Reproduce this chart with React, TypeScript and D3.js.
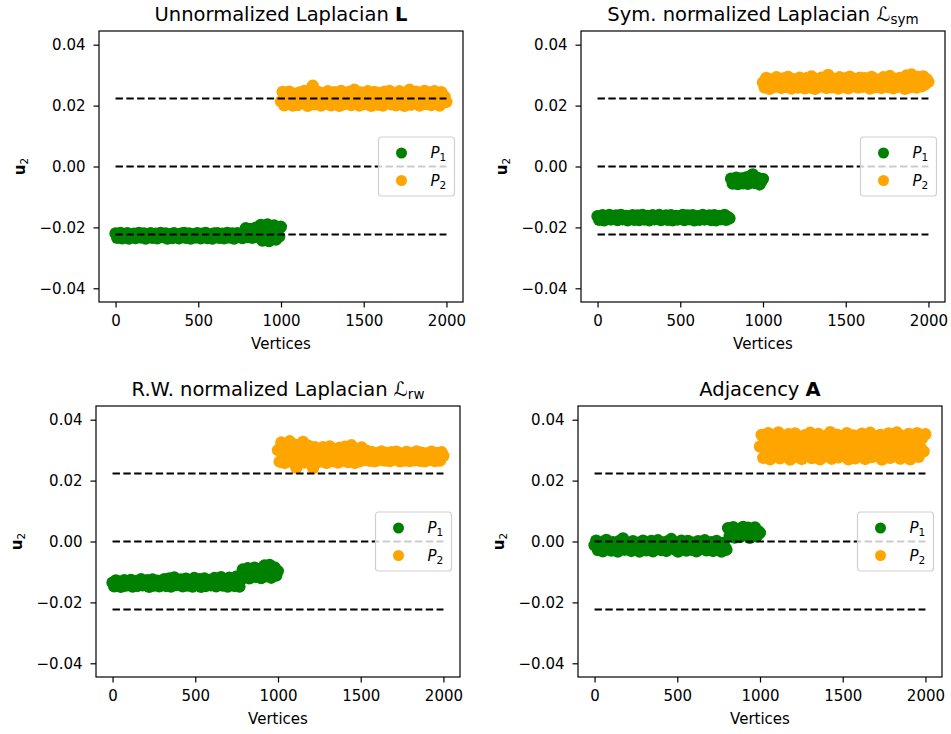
import React from "react";
import * as d3 from "d3";

const W = 951;
const H = 734;

const xTicks = [0, 500, 1000, 1500, 2000];
const yTicks = [-0.04, -0.02, 0, 0.02, 0.04];
// reference levels: +-1/sqrt(n) and zero
const refLevels = [0.02236, 0, -0.02236];

// Unnormalized Laplacian L, vertices 0..999 (P1) and 1000..1999 (P2)
const greenL = [
  -0.022, -0.0234, -0.0227, -0.0218, -0.0236, -0.0225, -0.023, -0.0219, -0.0237, -0.0224,
  -0.0229, -0.0221, -0.0235, -0.0226, -0.0218, -0.0233, -0.0228, -0.022, -0.0237, -0.0223,
  -0.0231, -0.0219, -0.0234, -0.0226, -0.0221, -0.0236, -0.0228, -0.0218, -0.0232, -0.0225,
  -0.022, -0.0237, -0.0227, -0.0222, -0.0235, -0.0219, -0.023, -0.0224, -0.0236, -0.0221,
  -0.0228, -0.0218, -0.0234, -0.0225, -0.022, -0.0237, -0.0229, -0.0222, -0.0233, -0.0219,
  -0.0226, -0.0236, -0.0221, -0.0231, -0.0218, -0.0235, -0.0227, -0.0223, -0.0237, -0.022,
  -0.023, -0.0219, -0.0234, -0.0225, -0.0221, -0.0236, -0.0228, -0.0218, -0.0233, -0.0224,
  -0.022, -0.0237, -0.0226, -0.0219, -0.0232, -0.0223, -0.0235, -0.0221,
  -0.0203, -0.0232, -0.0217, -0.0205, -0.0234, -0.0219, -0.0201, -0.023, -0.0215,
  -0.0192, -0.0243, -0.021, -0.0228, -0.019, -0.0245, -0.0207, -0.0225, -0.0194, -0.024,
  -0.0212, -0.023, -0.0198,
];
const orangeL = [
  0.0214, 0.0245, 0.0201, 0.023, 0.0208, 0.0246, 0.0222, 0.02, 0.0238, 0.0215,
  0.0202, 0.0243, 0.0226, 0.021, 0.0248, 0.0219, 0.0199, 0.0235, 0.0252, 0.0265,
  0.0204, 0.0229, 0.0246, 0.0212, 0.02, 0.024, 0.0223, 0.0206, 0.0247, 0.0217,
  0.0201, 0.0236, 0.0244, 0.0211, 0.0227, 0.0199, 0.0248, 0.022, 0.0205, 0.0239,
  0.0213, 0.0246, 0.0202, 0.0231, 0.0252, 0.0209, 0.0224, 0.02, 0.0243, 0.0218,
  0.0205, 0.0237, 0.0247, 0.0212, 0.0199, 0.0228, 0.0245, 0.0216, 0.0203, 0.0241,
  0.0221, 0.02, 0.0246, 0.021, 0.0233, 0.0248, 0.0204, 0.0225, 0.024, 0.0201,
  0.0215, 0.0247, 0.0207, 0.023, 0.0199, 0.0244, 0.0219, 0.0252, 0.0203, 0.0236,
  0.0211, 0.0246, 0.0226, 0.02, 0.0239, 0.0214, 0.0248, 0.0205, 0.0232, 0.0243,
  0.0202, 0.0222, 0.0247, 0.0209, 0.0236, 0.02, 0.0244, 0.0217, 0.0229, 0.0212,
];

// Symmetric normalized Laplacian
const greenSym = [
  -0.0163, -0.0175, -0.0168, -0.016, -0.0177, -0.0166, -0.0171, -0.0159, -0.0174, -0.0165,
  -0.017, -0.0161, -0.0176, -0.0167, -0.0159, -0.0173, -0.0169, -0.0162, -0.0177, -0.0164,
  -0.0172, -0.016, -0.0175, -0.0167, -0.0161, -0.0176, -0.0169, -0.0159, -0.0174, -0.0166,
  -0.0162, -0.0177, -0.0168, -0.016, -0.0173, -0.0165, -0.0171, -0.0159, -0.0176, -0.0163,
  -0.0169, -0.0161, -0.0175, -0.0166, -0.016, -0.0177, -0.017, -0.0162, -0.0174, -0.0164,
  -0.0168, -0.0159, -0.0176, -0.0165, -0.0161, -0.0173, -0.017, -0.016, -0.0177, -0.0166,
  -0.0163, -0.0175, -0.0168, -0.0159, -0.0174, -0.0164, -0.0171, -0.0161, -0.0176, -0.0167,
  -0.016, -0.0177, -0.0169, -0.0162, -0.0173, -0.0165, -0.0159, -0.0175, -0.0166, -0.017,
  -0.004, -0.0056, -0.0045, -0.0037, -0.0058, -0.0048, -0.0039, -0.0055, -0.0044, -0.0036,
  -0.0057, -0.0047, -0.003, -0.0026, -0.0054, -0.0043, -0.0038, -0.0059, -0.0049, -0.0041,
];
const orangeSym = [
  0.0276, 0.026, 0.0291, 0.0268, 0.0255, 0.0285, 0.0272, 0.0262, 0.0293, 0.0266,
  0.0281, 0.0258, 0.0289, 0.027, 0.0261, 0.0294, 0.0275, 0.0256, 0.0287, 0.0267,
  0.0279, 0.0259, 0.0292, 0.0264, 0.0283, 0.0257, 0.029, 0.0273, 0.026, 0.0296,
  0.0269, 0.0255, 0.0286, 0.0277, 0.0262, 0.0292, 0.0266, 0.028, 0.0258, 0.0301,
  0.0271, 0.026, 0.0288, 0.0264, 0.0282, 0.0256, 0.0293, 0.0274, 0.0261, 0.0289,
  0.0268, 0.0257, 0.0295, 0.0278, 0.0263, 0.0287, 0.027, 0.0259, 0.0292, 0.0275,
  0.0262, 0.029, 0.0267, 0.0281, 0.0256, 0.0294, 0.0272, 0.026, 0.0286, 0.0269,
  0.0279, 0.0258, 0.0293, 0.0265, 0.0284, 0.0261, 0.0297, 0.0271, 0.0257, 0.0288,
  0.0276, 0.0262, 0.0291, 0.0266, 0.0283, 0.0255, 0.0299, 0.0273, 0.026, 0.0302,
  0.0268, 0.0285, 0.0259, 0.0294, 0.0274, 0.0263, 0.0296, 0.027, 0.0287, 0.0278,
];

// Random-walk normalized Laplacian
const greenRw = [
  -0.0135, -0.0147, -0.0128, -0.0141, -0.0132, -0.0149, -0.0137, -0.0127, -0.0145, -0.0133,
  -0.014, -0.0126, -0.0148, -0.0136, -0.013, -0.0146, -0.0138, -0.0124, -0.0144, -0.0131,
  -0.0142, -0.0127, -0.0149, -0.0134, -0.0125, -0.0145, -0.0136, -0.0129, -0.0147, -0.0132,
  -0.0139, -0.0124, -0.0146, -0.0133, -0.0121, -0.0148, -0.0135, -0.0118, -0.0143, -0.0128,
  -0.014, -0.0125, -0.0147, -0.0131, -0.0122, -0.0145, -0.0136, -0.0127, -0.0148, -0.012,
  -0.0134, -0.0143, -0.0124, -0.0149, -0.013, -0.0121, -0.0146, -0.0135, -0.0126, -0.0144,
  -0.0132, -0.012, -0.0147, -0.0129, -0.0138, -0.0117, -0.0145, -0.0127, -0.0134, -0.0148,
  -0.0119, -0.014, -0.0126, -0.0146, -0.0116, -0.0133, -0.0148, -0.0124,
  -0.0092, -0.0118, -0.0104, -0.0088, -0.0121, -0.0098, -0.011, -0.0086, -0.0116, -0.0101,
  -0.009, -0.012, -0.0107, -0.0079, -0.0114, -0.0095, -0.0077, -0.0119, -0.0103, -0.0085,
  -0.0112, -0.0097,
];
const orangeRw = [
  0.03, 0.0262, 0.0325, 0.0281, 0.0258, 0.0312, 0.027, 0.0329, 0.0292, 0.026,
  0.0318, 0.0242, 0.0276, 0.0306, 0.0285, 0.0327, 0.0259, 0.0296, 0.0315, 0.0268,
  0.0288, 0.0241, 0.031, 0.0272,
  0.0305, 0.0262, 0.0285, 0.031, 0.027, 0.0258, 0.0296, 0.0312, 0.0276, 0.0264,
  0.0302, 0.0289, 0.0259, 0.0308, 0.028, 0.0266, 0.0311, 0.0292, 0.0261, 0.03,
  0.0316, 0.0273, 0.0258, 0.0304, 0.0284, 0.0263, 0.0309, 0.0278, 0.0268, 0.0298,
  0.028, 0.0265, 0.0294, 0.0272, 0.0263, 0.029, 0.0277, 0.0268, 0.0296, 0.0284,
  0.0266, 0.0291, 0.0274, 0.0264, 0.0293, 0.0281, 0.0269, 0.0295, 0.0276, 0.0263,
  0.0288, 0.0271, 0.0266, 0.0294, 0.0279, 0.0264, 0.029, 0.0283, 0.0267, 0.0296,
  0.0273, 0.0265, 0.0292, 0.0278, 0.0263, 0.0289, 0.0282, 0.0268, 0.0295, 0.0275,
  0.0264, 0.0291, 0.0279, 0.0266, 0.0293, 0.0281,
];

// Adjacency A
const greenA = [
  -0.0012, 0.0003, -0.0028, -0.0018, -0.0004, -0.0032, -0.0009, 0.0005, -0.0024, -0.0015,
  -0.003, -0.0002, -0.002, -0.0011, -0.0033, 0.0002, -0.0016, 0.001, -0.0027, -0.0006,
  -0.0022, -0.0013, -0.0031, 0.0001, -0.0017, -0.0026, -0.0005, -0.0033, -0.001, 0.0003,
  -0.0021, -0.0029, -0.0007, -0.0015, 0.0002, -0.0032, -0.0012, -0.0024, 0.0004, -0.0018,
  -0.0028, -0.0003, -0.0014, -0.0031, 0.0001, -0.002, 0.0008, -0.0011, -0.0026, -0.0006,
  -0.0033, -0.0016, 0.0003, -0.0023, -0.0009, -0.003, 0.0002, -0.0013, -0.0027, -0.0004,
  -0.0019, -0.0032, 0.0001, -0.001, -0.0025, -0.0015, 0.0004, -0.0029, -0.0008, -0.0021,
  -0.0002, -0.0031, -0.0014, 0.0002, -0.0024, -0.0011, -0.0033, -0.0005, -0.0018, -0.0027,
  0.0044, 0.0018, 0.0032, 0.0047, 0.0013, 0.0026, 0.004, 0.0015, 0.0036, 0.0048,
  0.0021, 0.003, 0.0045, 0.0012, 0.0038, 0.0024, 0.0046, 0.0017, 0.0034, 0.0028,
];
const orangeA = [
  0.0312, 0.035, 0.0275, 0.0331, 0.0292, 0.0356, 0.027, 0.0318, 0.034, 0.0284,
  0.0302, 0.0358, 0.0273, 0.0326, 0.0345, 0.0288, 0.031, 0.0352, 0.0269, 0.0335,
  0.0296, 0.0355, 0.0278, 0.032, 0.0342, 0.0271, 0.0306, 0.0349, 0.0286, 0.033,
  0.0357, 0.0274, 0.0314, 0.0338, 0.029, 0.0353, 0.027, 0.0324, 0.03, 0.0346,
  0.028, 0.0316, 0.0359, 0.0272, 0.0334, 0.0295, 0.0351, 0.0276, 0.0322, 0.0343,
  0.0287, 0.0308, 0.0356, 0.027, 0.0328, 0.0298, 0.0348, 0.0273, 0.0318, 0.0339,
  0.0282, 0.0354, 0.0304, 0.0271, 0.0336, 0.0292, 0.0357, 0.0277, 0.0313, 0.0345,
  0.0284, 0.0326, 0.035, 0.0269, 0.0307, 0.0341, 0.0294, 0.0355, 0.0275, 0.032,
  0.0337, 0.0283, 0.0358, 0.0299, 0.0272, 0.033, 0.0347, 0.0289, 0.0315, 0.0353,
  0.027, 0.0325, 0.0344, 0.0291, 0.0356, 0.0278, 0.031, 0.0339, 0.0296, 0.0352,
];

type Panel = {
  title: string;
  sym: string;
  symStyle: "bold" | "cal";
  sub?: string;
  green: number[];
  orange: number[];
  left: number;
  top: number;
};

const panels: Panel[] = [
  { title: "Unnormalized Laplacian ", sym: "L", symStyle: "bold", green: greenL, orange: orangeL, left: 99, top: 31 },
  { title: "Sym. normalized Laplacian ", sym: "\u2112", symStyle: "cal", sub: "sym", green: greenSym, orange: orangeSym, left: 581, top: 31 },
  { title: "R.W. normalized Laplacian ", sym: "\u2112", symStyle: "cal", sub: "rw", green: greenRw, orange: orangeRw, left: 96, top: 406 },
  { title: "Adjacency ", sym: "A", symStyle: "bold", green: greenA, orange: orangeA, left: 578, top: 406 },
];

export default function App() {
  const ref = React.useRef<SVGSVGElement>(null);

  React.useEffect(() => {
    const pw = 364;
    const ph = 271;
    const font = "DejaVu Sans";
    const r = 6.2;
    const svg = d3.select(ref.current);
    svg.selectAll("*").remove();
    svg.append("rect").attr("width", W).attr("height", H).attr("fill", "#fff");

    // spread the samples of each partition over its vertex range
    const toPoints = (vals: number[], start: number) =>
      vals.map((v, i) => ({ vx: start + Math.round((i * 999) / (vals.length - 1)), v }));

    for (const p of panels) {
      const x = d3.scaleLinear().domain([-100, 2100]).range([0, pw]);
      const y = d3.scaleLinear().domain([-0.0445, 0.0445]).range([ph, 0]);
      const g = svg.append("g").attr("transform", `translate(${p.left},${p.top})`);

      g.append("g")
        .attr("fill", "green")
        .selectAll("circle")
        .data(toPoints(p.green, 0))
        .join("circle")
        .attr("cx", (d) => x(d.vx))
        .attr("cy", (d) => y(d.v))
        .attr("r", r);

      g.append("g")
        .attr("fill", "orange")
        .selectAll("circle")
        .data(toPoints(p.orange, 1000))
        .join("circle")
        .attr("cx", (d) => x(d.vx))
        .attr("cy", (d) => y(d.v))
        .attr("r", r);

      g.append("g")
        .selectAll("line")
        .data(refLevels)
        .join("line")
        .attr("x1", x(0))
        .attr("x2", x(2000))
        .attr("y1", (d) => y(d))
        .attr("y2", (d) => y(d))
        .attr("stroke", "#000")
        .attr("stroke-width", 2)
        .attr("stroke-dasharray", "7.4,3.4");

      // legend (center right)
      const lw = 76;
      const lh = 59;
      const lx = pw - 8.5 - lw;
      const ly = ph / 2 - lh / 2;
      const leg = g.append("g").attr("transform", `translate(${lx},${ly})`);
      leg.append("rect")
        .attr("width", lw)
        .attr("height", lh)
        .attr("rx", 3)
        .attr("fill", "#fff")
        .attr("fill-opacity", 0.8)
        .attr("stroke", "#d0d0d0")
        .attr("stroke-width", 1.2);
      [["green", "1"], ["orange", "2"]].forEach(([c, n], i) => {
        const cy = 16 + i * 27.5;
        leg.append("circle").attr("cx", 23).attr("cy", cy).attr("r", 5.5).attr("fill", c);
        const t = leg.append("text")
          .attr("x", 52)
          .attr("y", cy + 5)
          .attr("font-family", font)
          .attr("font-size", 15)
          .attr("fill", "#000");
        t.append("tspan").attr("font-style", "italic").text("P");
        t.append("tspan").attr("font-size", 10.5).attr("dy", 3).text(n);
      });

      // frame
      g.append("rect")
        .attr("width", pw)
        .attr("height", ph)
        .attr("fill", "none")
        .attr("stroke", "#000")
        .attr("stroke-width", 1.2);

      const xa = g.append("g")
        .attr("transform", `translate(0,${ph})`)
        .call(d3.axisBottom(x).tickValues(xTicks).tickFormat(d3.format("d")).tickSize(5.5).tickPadding(8).tickSizeOuter(0));
      const ya = g.append("g")
        .call(d3.axisLeft(y).tickValues(yTicks).tickFormat(d3.format(".2f")).tickSize(5.5).tickPadding(8).tickSizeOuter(0));
      for (const a of [xa, ya]) {
        a.select(".domain").remove();
        a.selectAll("line").attr("stroke", "#000").attr("stroke-width", 1.2);
        a.selectAll("text").attr("font-family", font).attr("font-size", 15).attr("fill", "#000");
      }

      g.append("text")
        .attr("x", pw / 2)
        .attr("y", ph + 47)
        .attr("text-anchor", "middle")
        .attr("font-family", font)
        .attr("font-size", 15)
        .attr("fill", "#000")
        .text("Vertices");

      const yl = g.append("text")
        .attr("transform", `translate(-74,${ph / 2}) rotate(-90)`)
        .attr("text-anchor", "middle")
        .attr("font-family", font)
        .attr("font-size", 15)
        .attr("fill", "#000");
      yl.append("tspan").attr("font-weight", "bold").text("u");
      yl.append("tspan").attr("font-size", 10.5).attr("dy", 3).text("2");

      const tt = g.append("text")
        .attr("x", pw / 2)
        .attr("y", -10.5)
        .attr("text-anchor", "middle")
        .attr("font-family", font)
        .attr("font-size", 19.5)
        .attr("fill", "#000");
      tt.append("tspan").text(p.title);
      const s = tt.append("tspan").text(p.sym);
      if (p.symStyle === "bold") s.attr("font-weight", "bold");
      else s.attr("font-style", "italic");
      if (p.sub) tt.append("tspan").attr("font-size", 13.5).attr("dy", 3).text(p.sub);
    }
  }, []);

  return <svg ref={ref} width={W} height={H} style={{ position: "absolute", left: 0, top: 0 }} />;
}
